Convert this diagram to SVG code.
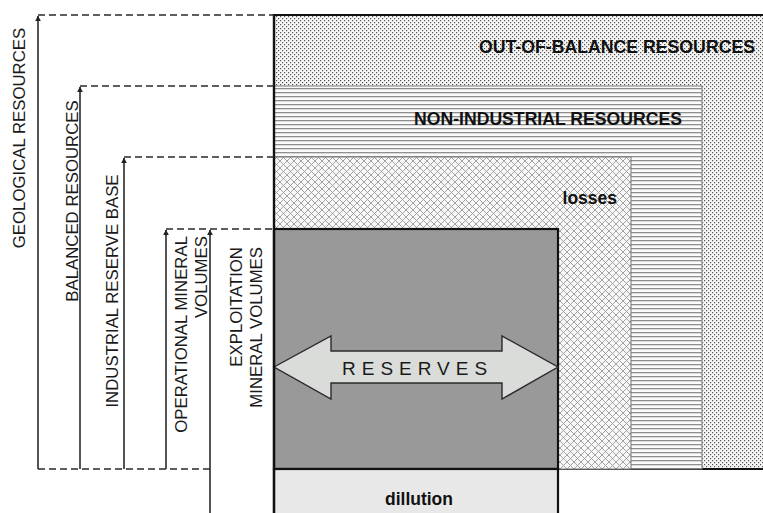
<svg xmlns="http://www.w3.org/2000/svg" width="763" height="513" viewBox="0 0 763 513">
<defs>
<pattern id="dots" width="4" height="4" patternUnits="userSpaceOnUse">
<rect width="4" height="4" fill="#f6f6f6"/>
<rect x="0" y="0" width="1.2" height="1.2" fill="#555"/>
<rect x="2" y="2" width="1.2" height="1.2" fill="#555"/>
</pattern>
<pattern id="hlines" width="8" height="4" patternUnits="userSpaceOnUse">
<rect width="8" height="4" fill="#fbfbfb"/>
<rect x="0" y="0" width="8" height="1.3" fill="#8f8f8f"/>
</pattern>
<pattern id="xhatch" width="7" height="7" patternUnits="userSpaceOnUse">
<rect width="7" height="7" fill="#f8f8f8"/>
<path d="M0,0 L7,7 M7,0 L0,7 M-1,6 L1,8 M6,-1 L8,1 M-1,1 L1,-1 M6,8 L8,6" stroke="#999" stroke-width="0.9"/>
</pattern>
<marker id="ah" viewBox="0 0 10 10" refX="9" refY="5" markerWidth="6" markerHeight="6" orient="auto" markerUnits="userSpaceOnUse">
<path d="M0,0 L10,5 L0,10 z" fill="#222"/>
</marker>
</defs>
<style>
.lbl{font-family:"Liberation Sans",Arial,sans-serif;font-size:16.8px;fill:#1a1a1a}
.bold{font-family:"Liberation Sans",Arial,sans-serif;font-size:17.5px;font-weight:bold;fill:#111}
.ax{stroke:#2a2a2a;stroke-width:1.6;fill:none}
.dash{stroke:#2a2a2a;stroke-width:1.4;stroke-dasharray:7,4;fill:none}
</style>

<g id="out-of-balance">
<rect x="274" y="15" width="495" height="454" fill="url(#dots)"/>
<path d="M274,15 H763" stroke="#111" stroke-width="2.2"/>
<path d="M558,469 H763" stroke="#111" stroke-width="2.2"/>
<text class="bold" x="755" y="53" text-anchor="end" textLength="276" lengthAdjust="spacingAndGlyphs">OUT-OF-BALANCE RESOURCES</text>
</g>

<g id="non-industrial">
<rect x="274" y="86" width="428" height="383" fill="url(#hlines)" stroke="#777" stroke-width="1"/>
<text class="bold" x="682" y="125" text-anchor="end" textLength="268" lengthAdjust="spacingAndGlyphs">NON-INDUSTRIAL RESOURCES</text>
</g>

<g id="losses">
<rect x="274" y="157" width="357" height="312" fill="url(#xhatch)" stroke="#777" stroke-width="1"/>
<text class="bold" x="617" y="204" text-anchor="end">losses</text>
</g>

<g id="reserves">
<rect x="274" y="229" width="284" height="240" fill="#999999" stroke="#111" stroke-width="2.2"/>
<path d="M274,367 L331,336 L331,351 L502,351 L502,336 L558,367 L502,399 L502,383 L331,383 L331,399 Z" fill="#d9dcd9" stroke="#2a2a2a" stroke-width="1.4" stroke-linejoin="miter"/>
<text x="342" y="375" font-family="Liberation Sans, Arial, sans-serif" font-size="19" letter-spacing="6" fill="#1a1a1a">RESERVES</text>
</g>

<g id="dillution">
<rect x="274" y="469" width="284" height="50" fill="#e8e8e8" stroke="#111" stroke-width="2.2"/>
<text class="bold" x="419" y="505" text-anchor="middle">dillution</text>
</g>

<g id="left-border">
<path d="M274,14 V513" stroke="#111" stroke-width="2.4"/>
</g>

<g id="connectors">
<path class="dash" d="M38,15 H274"/>
<path class="dash" d="M80,86 H274"/>
<path class="dash" d="M124,157 H274"/>
<path class="dash" d="M166,229 H274"/>
<path class="dash" d="M38,469 H210"/>
<path class="ax" d="M38,469 V16" marker-end="url(#ah)"/>
<path class="ax" d="M80,469 V87" marker-end="url(#ah)"/>
<path class="ax" d="M124,469 V158" marker-end="url(#ah)"/>
<path class="ax" d="M166,469 V230" marker-end="url(#ah)"/>
<path class="ax" d="M210,513 V230" marker-end="url(#ah)"/>
</g>

<g id="label-geological">
<text class="lbl" transform="translate(25,138) rotate(-90)" text-anchor="middle">GEOLOGICAL RESOURCES</text>
</g>
<g id="label-balanced">
<text class="lbl" transform="translate(78,201) rotate(-90)" text-anchor="middle">BALANCED RESOURCES</text>
</g>
<g id="label-industrial">
<text class="lbl" transform="translate(118,291) rotate(-90)" text-anchor="middle">INDUSTRIAL RESERVE BASE</text>
</g>
<g id="label-operational">
<text class="lbl" transform="translate(187,236) rotate(-90)" text-anchor="end">OPERATIONAL MINERAL</text>
<text class="lbl" transform="translate(207,236) rotate(-90)" text-anchor="end">VOLUMES</text>
</g>
<g id="label-exploitation">
<text class="lbl" transform="translate(242,247) rotate(-90)" text-anchor="end">EXPLOITATION</text>
<text class="lbl" transform="translate(262,247) rotate(-90)" text-anchor="end">MINERAL VOLUMES</text>
</g>
</svg>
